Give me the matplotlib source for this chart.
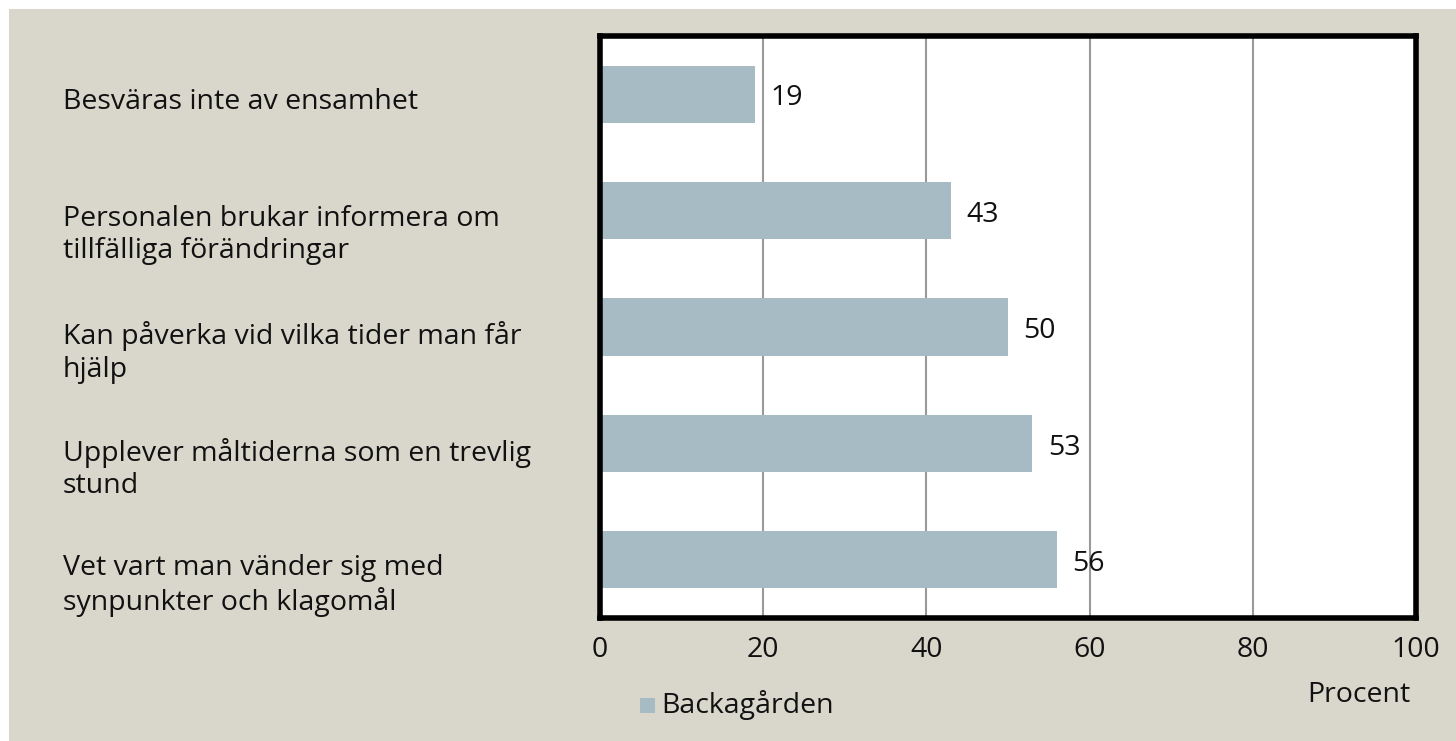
import matplotlib
matplotlib.use("Agg")
import matplotlib.pyplot as plt
from matplotlib.patches import Rectangle

# data
categories = [
    "Besväras inte av ensamhet",
    "Personalen brukar informera om\ntillfälliga förändringar",
    "Kan påverka vid vilka tider man får\nhjälp",
    "Upplever måltiderna som en trevlig\nstund",
    "Vet vart man vänder sig med\nsynpunkter och klagomål",
]
values = [19, 43, 50, 53, 56]
series_name = "Backagården"
xticks = [0, 20, 40, 60, 80, 100]

bar_color = "#a7bbc5"
bg_color = "#d9d7cc"
font = "Open Sans"
fs = 20.5

plt.rcParams["font.family"] = [font, "DejaVu Sans"]

W, H = 1456, 741
fig = plt.figure(figsize=(W / 100, H / 100), dpi=100)
fig.patch.set_facecolor("white")
# beige panel with a thin white margin top and left
fig.add_artist(Rectangle((9 / W, 0), 1 - 9 / W, 1 - 9 / H, transform=fig.transFigure,
                         facecolor=bg_color, edgecolor="none", zorder=-10))

ax = fig.add_axes([600 / W, 1 - 618 / H, (1416 - 600) / W, (618 - 36) / H])
ax.set_facecolor("white")

ypos = list(range(len(values)))
ax.barh(ypos, values, height=0.49, color=bar_color, zorder=2)
ax.set_xlim(0, 100)
ax.set_ylim(len(values) - 0.5, -0.5)

ax.set_xticks(xticks)
ax.set_xticklabels([str(t) for t in xticks], fontsize=fs, color="#111111")
ax.tick_params(axis="x", length=0, pad=13)
ax.set_yticks([])
ax.grid(axis="x", color="#999999", linewidth=1.5, zorder=1)
for s in ax.spines.values():
    s.set_linewidth(4)
    s.set_color("black")

for y, v in zip(ypos, values):
    ax.annotate(str(v), (v, y), xytext=(11, -3), textcoords="offset points",
                va="center", ha="left", fontsize=fs, color="#111111", zorder=3)

for y, c in zip(ypos, categories):
    ax.text(-537 / 816 * 100, y - 0.05, c, ha="left", va="top", fontsize=fs,
            color="#111111", linespacing=1.22, clip_on=False,
            transform=ax.transData)

fig.text(1410 / W, 1 - 695 / H, "Procent", ha="right", va="center", fontsize=fs,
         color="#111111")

# legend
fig.add_artist(Rectangle((640 / W, 1 - 713 / H), 15 / W, 15 / H,
                         transform=fig.transFigure, facecolor=bar_color,
                         edgecolor="none"))
fig.text(661 / W, 1 - 705 / H, series_name, ha="left", va="center", fontsize=fs,
         color="#111111")

fig.savefig("out.png", dpi=100)
